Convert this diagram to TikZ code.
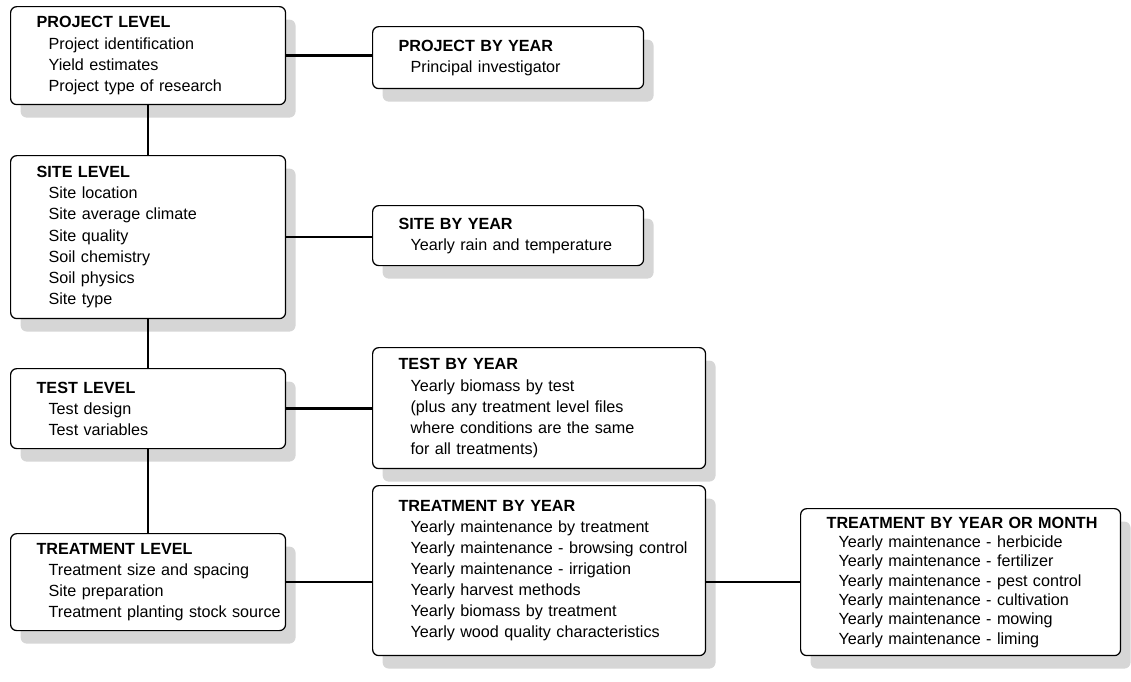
\documentclass[tikz,border=0pt]{standalone}
\usepackage{fontspec}
\setmainfont{Liberation Sans}
\usetikzlibrary{shadows}

\newcommand{\hd}[1]{\hspace*{0.47cm}\textbf{#1}\\}
\newcommand{\itm}{\hspace*{0.71cm}}

\begin{document}
\begin{tikzpicture}[
    x=0.02cm, y=-0.02cm,
    font=\fontsize{9.2}{12}\selectfont,
    box/.style={draw, line width=0.7pt, rounded corners=3.5pt, fill=white, anchor=north west,
      align=left, inner xsep=0.05cm, inner ysep=0pt,
      drop shadow={shadow xshift=0.2cm, shadow yshift=-0.26cm, fill=black!16, opacity=1}},
    lvl/.style={box, text width=5.4cm},
    yr/.style={box, text width=5.32cm},
    wide/.style={box, text width=6.56cm},
    link/.style={line width=1.3pt},
]
\useasboundingbox (0,0) rectangle (1131,681);

% ============ left column: the levels ============
\node[lvl, minimum height=1.96cm] (projlvl) at (10,6) {\hd{PROJECT LEVEL}\itm Project identification\\ \itm Yield estimates\\ \itm Project type of research};
\node[lvl, minimum height=3.26cm] (sitelvl) at (10,155) {\hd{SITE LEVEL}\itm Site location\\ \itm Site average climate\\ \itm Site quality\\ \itm Soil chemistry\\ \itm Soil physics\\ \itm Site type};
\node[lvl, minimum height=1.6cm] (testlvl) at (10,368) {\hd{TEST LEVEL}\itm Test design\\ \itm Test variables};
\node[lvl, minimum height=1.94cm] (trtlvl) at (10,533) {\hd{TREATMENT LEVEL}\itm Treatment size and spacing\\ \itm Site preparation\\ \itm Treatment planting stock source};

% ============ right column: yearly files ============
\node[yr, minimum height=1.24cm] (projyr) at (372,26) {\hd{PROJECT BY YEAR}\itm Principal investigator};
\node[yr, minimum height=1.2cm] (siteyr) at (372,205) {\hd{SITE BY YEAR}\itm Yearly rain and temperature};
\node[wide, minimum height=2.42cm] (testyr) at (372,347) {\hd{TEST BY YEAR}\itm Yearly biomass by test\\ \itm (plus any treatment level files\\ \itm where conditions are the same\\ \itm for all treatments)};
\node[wide, minimum height=3.4cm] (trtyr) at (372,485) {\hd{TREATMENT BY YEAR}\itm Yearly maintenance by treatment\\ \itm Yearly maintenance - browsing control\\ \itm Yearly maintenance - irrigation\\ \itm Yearly harvest methods\\ \itm Yearly biomass by treatment\\ \itm Yearly wood quality characteristics};
\node[box, text width=6.3cm, minimum height=2.94cm, font=\fontsize{9.2}{11}\selectfont] (trtmon) at (800,508) {\hd{TREATMENT BY YEAR OR MONTH}\itm Yearly maintenance - herbicide\\ \itm Yearly maintenance - fertilizer\\ \itm Yearly maintenance - pest control\\ \itm Yearly maintenance - cultivation\\ \itm Yearly maintenance - mowing\\ \itm Yearly maintenance - liming};

% ============ links ============
\draw[link] (projlvl.south) -- (sitelvl.north);
\draw[link] (sitelvl.south) -- (testlvl.north);
\draw[link] (testlvl.south) -- (trtlvl.north);
\draw[link] (projlvl.east) -- (projlvl.east -| projyr.west);
\draw[link] (sitelvl.east) -- (sitelvl.east -| siteyr.west);
\draw[link] (testlvl.east) -- (testlvl.east -| testyr.west);
\draw[link] (trtlvl.east) -- (trtlvl.east -| trtyr.west);
\draw[link] (trtlvl.east -| trtyr.east) -- (trtlvl.east -| trtmon.west);

\end{tikzpicture}
\end{document}
